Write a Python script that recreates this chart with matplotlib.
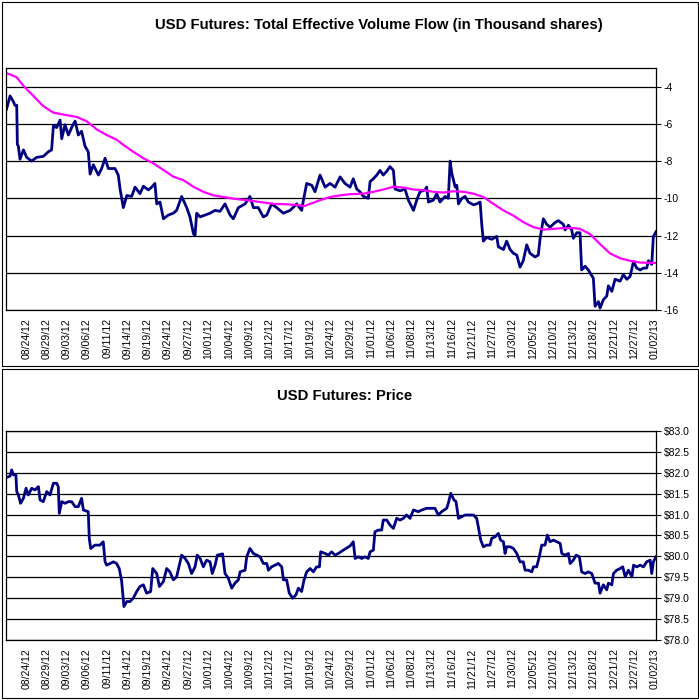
import matplotlib
matplotlib.use("Agg")
import matplotlib.pyplot as plt
from matplotlib.patches import Rectangle

plt.rcParams['font.family'] = ['Liberation Sans', 'DejaVu Sans']

# tick labels of the category axis (one label every few bars)
date_labels = ['08/24/12', '08/29/12', '09/03/12', '09/06/12', '09/11/12', '09/14/12',
               '09/19/12', '09/24/12', '09/27/12', '10/01/12', '10/04/12', '10/09/12',
               '10/12/12', '10/17/12', '10/19/12', '10/24/12', '10/29/12', '11/01/12',
               '11/06/12', '11/08/12', '11/13/12', '11/16/12', '11/21/12', '11/27/12',
               '11/30/12', '12/05/12', '12/10/12', '12/13/12', '12/18/12', '12/21/12',
               '12/27/12', '01/02/13']
label_pos = list(range(1, len(date_labels) + 1))

# effective volume flow (time in label intervals, value in thousand shares)
vol_t = [0.03, 0.20, 0.36, 0.44, 0.53, 0.56, 0.61, 0.69, 0.86, 1.02,
         1.27, 1.51, 1.84, 2.09, 2.25, 2.34, 2.50, 2.67, 2.75, 2.91,
         3.08, 3.24, 3.41, 3.57, 3.73, 3.90, 4.06, 4.15, 4.31, 4.56,
         4.72, 4.89, 5.05, 5.38, 5.54, 5.63, 5.79, 5.96, 6.20, 6.37,
         6.61, 6.78, 7.03, 7.19, 7.35, 7.44, 7.60, 7.77, 8.01, 8.26,
         8.42, 8.67, 8.92, 9.08, 9.25, 9.33, 9.41, 9.58, 9.82, 10.07,
         10.32, 10.56, 10.81, 11.06, 11.22, 11.47, 11.80, 12.04, 12.21, 12.45,
         12.70, 12.87, 13.11, 13.36, 13.69, 14.02, 14.35, 14.59, 14.68, 14.84,
         15.09, 15.25, 15.50, 15.75, 15.99, 16.24, 16.49, 16.73, 16.98,
         17.14, 17.31, 17.47, 17.64, 17.88, 17.97, 18.13, 18.30, 18.46, 18.62,
         18.79, 18.95, 19.12, 19.20, 19.45, 19.69, 19.86, 20.11, 20.27, 20.43,
         20.68, 20.76, 20.85, 21.09, 21.26, 21.42, 21.67, 21.83, 21.92, 22.00,
         22.17, 22.25, 22.33, 22.50, 22.66, 22.82, 23.07, 23.23, 23.40, 23.48,
         23.56, 23.72, 23.97, 24.22, 24.30, 24.55, 24.71, 24.88, 25.04, 25.21,
         25.37, 25.53, 25.70, 25.86, 26.11, 26.27, 26.36, 26.52, 26.69, 26.85,
         27.10, 27.26, 27.51, 27.59, 27.76, 27.92, 28.00, 28.17, 28.33, 28.41,
         28.58, 28.74, 28.99, 29.07, 29.24, 29.32, 29.48, 29.65, 29.73, 29.90,
         30.06, 30.31, 30.47, 30.64, 30.80, 30.97, 31.13, 31.30, 31.46, 31.62,
         31.71, 31.87, 31.95, 32.08]
vol_v = [-5.2, -4.5, -4.8, -5.0, -5.0, -7.1, -7.2, -7.9, -7.4, -7.8,
         -8.0, -7.8, -7.75, -7.5, -7.4, -6.1, -6.2, -5.8, -6.8, -6.05,
         -6.6, -6.2, -5.85, -6.6, -6.4, -7.2, -7.5, -8.7, -8.2, -8.75,
         -8.4, -7.85, -8.4, -8.4, -8.75, -9.5, -10.5, -9.85, -9.9, -9.4,
         -9.75, -9.35, -9.55, -9.4, -9.2, -10.3, -10.2, -11.1, -10.9, -10.8,
         -10.65, -9.9, -10.5, -11.0, -11.9, -12.0, -10.8, -11.0, -10.9, -10.8,
         -10.65, -10.7, -10.3, -10.9, -11.1, -10.5, -10.3, -9.9, -10.5, -10.5,
         -11.0, -10.9, -10.3, -10.5, -10.8, -10.65, -10.3, -10.65, -10.1, -9.2,
         -9.3, -9.65, -8.75, -9.4, -9.2, -9.4, -8.85, -9.2, -9.4,
         -8.95, -9.5, -9.65, -9.9, -10.0, -9.1, -8.95, -8.75, -8.5, -8.75,
         -8.55, -8.3, -8.5, -9.5, -9.6, -9.5, -10.1, -10.65, -10.1, -9.65,
         -9.55, -9.4, -10.2, -10.1, -9.75, -10.2, -9.9, -10.0, -8.0, -8.65,
         -9.4, -9.3, -10.3, -10.0, -9.9, -10.2, -10.35, -10.3, -10.2, -11.4,
         -12.3, -12.1, -12.2, -12.05, -12.6, -12.75, -12.3, -12.75, -12.95, -13.05,
         -13.7, -13.35, -12.5, -12.95, -13.15, -13.05, -12.15, -11.1, -11.4, -11.55,
         -11.3, -11.2, -11.4, -11.7, -11.45, -11.7, -12.15, -11.85, -11.85, -13.85,
         -13.65, -13.85, -14.3, -15.8, -15.55, -15.9, -15.45, -15.25, -14.7, -15.0,
         -14.35, -14.45, -14.1, -14.35, -14.2, -13.4, -13.75, -13.85, -13.75, -13.75,
         -13.35, -13.55, -12.05, -11.8]

# moving average of the volume flow
ma_t = [0.03, 0.36, 0.53, 0.86, 1.35, 1.84, 2.34, 2.83, 3.49, 3.98,
        4.48, 4.97, 5.46, 5.79, 6.28, 6.78, 7.27, 7.77, 8.26, 8.75,
        9.25, 9.74, 10.23, 10.73, 11.22, 11.88, 12.54, 13.20, 13.85, 14.51,
        14.68, 15.01, 15.50, 15.99, 16.49, 16.98,
        17.64, 18.13, 18.62, 19.12, 19.61, 20.11, 20.60, 21.09, 21.59, 22.08,
        22.58, 23.07, 23.56, 24.06, 24.55, 25.04, 25.53, 26.03, 26.52, 27.02,
        27.51, 28.00, 28.33, 28.82, 29.32, 29.81, 30.31, 30.80, 31.30, 31.79,
        32.08]
ma_v = [-3.28, -3.42, -3.5, -3.96, -4.5, -5.05, -5.4, -5.5, -5.63, -5.86,
        -6.3, -6.6, -6.85, -7.13, -7.5, -7.85, -8.12, -8.48, -8.84, -9.02,
        -9.38, -9.65, -9.84, -9.93, -10.02, -10.1, -10.2, -10.3, -10.32, -10.38,
        -10.43, -10.3, -10.1, -9.93, -9.84, -9.78,
        -9.75, -9.65, -9.53, -9.38, -9.42, -9.53, -9.56, -9.65, -9.69, -9.62,
        -9.65, -9.75, -9.93, -10.3, -10.65, -10.93, -11.28, -11.55, -11.68, -11.64,
        -11.6, -11.6, -11.64, -11.92, -12.46, -12.96, -13.22, -13.36, -13.45, -13.47,
        -13.47]

# futures price
px_t = [0.03, 0.20, 0.28, 0.36, 0.49, 0.53, 0.61, 0.72, 0.86, 0.99,
        1.10, 1.27, 1.43, 1.60, 1.68, 1.84, 2.01, 2.17, 2.34, 2.50,
        2.58, 2.63, 2.75, 2.91, 3.08, 3.24, 3.41, 3.57, 3.73, 3.82,
        4.06, 4.11, 4.18, 4.39, 4.64, 4.80, 4.89, 4.97, 5.30, 5.46,
        5.59, 5.71, 5.82, 5.96, 6.12, 6.28, 6.45, 6.61, 6.78, 6.94,
        7.14, 7.24, 7.44, 7.57, 7.77, 7.93, 8.09, 8.26, 8.42, 8.67,
        8.84, 9.00, 9.16, 9.33, 9.44, 9.58, 9.74, 9.90, 10.07, 10.18,
        10.32, 10.43, 10.69, 10.81, 10.97, 11.14, 11.30, 11.47, 11.55, 11.80,
        11.88, 12.04, 12.21, 12.37, 12.54, 12.70, 12.87, 12.95, 13.11, 13.28,
        13.44, 13.61, 13.69, 13.85, 13.98, 14.15, 14.31, 14.43, 14.59, 14.71,
        14.84, 15.01, 15.17, 15.33, 15.47, 15.53, 15.75, 15.91, 16.07, 16.24,
        16.40, 16.65, 16.98,
        17.14, 17.23, 17.39, 17.56, 17.72, 17.88, 17.97, 18.13, 18.21, 18.38,
        18.54, 18.62, 18.79, 18.95, 19.12, 19.28, 19.45, 19.61, 19.77, 19.94,
        20.11, 20.35, 20.52, 20.76, 20.93, 21.17, 21.34, 21.50, 21.75, 21.83,
        21.95, 22.11, 22.21, 22.33, 22.49, 22.66, 22.82, 23.07, 23.23, 23.31,
        23.43, 23.56, 23.72, 23.89, 23.97, 24.14, 24.30, 24.41, 24.55, 24.63,
        24.71, 24.88, 25.04, 25.21, 25.37, 25.53, 25.62, 25.78, 25.95, 26.03,
        26.19, 26.32, 26.44, 26.60, 26.72, 26.85, 27.02, 27.18, 27.35, 27.43,
        27.59, 27.76, 27.84, 28.00, 28.14, 28.30, 28.41, 28.58, 28.74, 28.91,
        29.07, 29.24, 29.32, 29.48, 29.65, 29.73, 29.90, 29.98, 30.14, 30.31,
        30.44, 30.56, 30.72, 30.89, 30.97, 31.13, 31.30, 31.46, 31.62, 31.79,
        31.87, 31.95, 32.08]
px_v = [81.89, 81.92, 82.07, 81.95, 81.95, 81.55, 81.47, 81.27, 81.39, 81.63,
        81.47, 81.63, 81.59, 81.67, 81.35, 81.31, 81.55, 81.47, 81.75, 81.75,
        81.67, 81.03, 81.31, 81.27, 81.31, 81.31, 81.19, 81.19, 81.39, 81.11,
        81.07, 80.43, 80.19, 80.27, 80.27, 80.35, 79.87, 79.79, 79.87, 79.83,
        79.71, 79.40, 78.80, 78.92, 78.92, 79.0, 79.16, 79.28, 79.32, 79.12,
        79.16, 79.71, 79.59, 79.28, 79.40, 79.71, 79.63, 79.44, 79.51, 80.03,
        79.95, 79.83, 79.59, 79.75, 80.03, 79.95, 79.75, 79.91, 79.87, 79.59,
        79.79, 80.03, 80.06, 79.59, 79.48, 79.24, 79.36, 79.44, 79.63, 79.67,
        79.99, 80.19, 80.07, 80.03, 79.99, 79.83, 79.83, 79.67, 79.75, 79.79,
        79.83, 79.75, 79.44, 79.44, 79.12, 79.0, 79.08, 79.24, 79.16, 79.44,
        79.63, 79.71, 79.63, 79.75, 79.75, 80.11, 80.07, 80.03, 80.11, 80.03,
        80.07, 80.15, 80.25,
        80.35, 79.95, 79.99, 79.95, 79.99, 79.95, 80.11, 80.15, 80.59, 80.63,
        80.63, 80.87, 80.87, 80.75, 80.67, 80.91, 80.87, 80.91, 80.99, 80.91,
        81.11, 81.07, 81.11, 81.15, 81.15, 81.15, 80.99, 81.07, 81.15, 81.27,
        81.51, 81.35, 81.31, 80.91, 80.95, 80.99, 80.99, 80.99, 80.91, 80.71,
        80.39, 80.23, 80.27, 80.27, 80.43, 80.47, 80.55, 80.39, 80.35, 80.07,
        80.23, 80.23, 80.19, 80.07, 79.87, 79.87, 79.67, 79.67, 79.63, 79.75,
        79.75, 79.99, 80.27, 80.27, 80.51, 80.35, 80.39, 80.35, 80.31, 80.07,
        80.03, 80.07, 79.83, 79.91, 80.03, 79.99, 79.63, 79.59, 79.63, 79.59,
        79.36, 79.36, 79.12, 79.32, 79.20, 79.36, 79.32, 79.59, 79.67, 79.71,
        79.75, 79.51, 79.67, 79.51, 79.79, 79.75, 79.79, 79.75, 79.87, 79.91,
        79.59, 79.87, 79.99]

vol_ticks = [-16, -14, -12, -10, -8, -6, -4]
px_ticks = [78.0, 78.5, 79.0, 79.5, 80.0, 80.5, 81.0, 81.5, 82.0, 82.5, 83.0]

W, H = 699, 700
fig = plt.figure(figsize=(W / 100, H / 100), dpi=100)

# chart area borders (two stacked Excel charts)
fig.add_artist(Rectangle((1.5 / W, 1 - 366 / H), 696 / W, 364.5 / H,
                         transform=fig.transFigure, fill=False, ec='black', lw=0.8))
fig.add_artist(Rectangle((1.5 / W, 1 - 698 / H), 696 / W, 329 / H,
                         transform=fig.transFigure, fill=False, ec='black', lw=0.8))


def style_axes(ax):
    ax.set_xlim(0, 32.08)
    ax.set_xticks(label_pos)
    ax.set_xticklabels(date_labels, rotation=90, fontsize=7.5, va='top')
    ax.tick_params(axis='x', length=0, pad=6)
    ax.yaxis.tick_right()
    ax.tick_params(axis='y', direction='out', length=3.5, width=0.8, pad=2, labelsize=7.5)
    ax.grid(axis='y', color='black', linewidth=0.9)
    ax.set_axisbelow(True)
    for s in ax.spines.values():
        s.set_linewidth(0.9)
        s.set_color('black')


ax1 = fig.add_axes([6 / W, 1 - 310 / H, 650 / W, 242 / H])
ax1.plot(vol_t, vol_v, color='#000080', linewidth=2.0)
ax1.plot(ma_t, ma_v, color='#FF00FF', linewidth=1.6)
ax1.set_ylim(-16, -3)
ax1.set_yticks(vol_ticks)
ax1.set_yticklabels([str(v) for v in vol_ticks])
style_axes(ax1)

ax2 = fig.add_axes([6 / W, 1 - 640 / H, 650 / W, 209 / H])
ax2.plot(px_t, px_v, color='#000080', linewidth=2.0)
ax2.set_ylim(78, 83)
ax2.set_yticks(px_ticks)
ax2.set_yticklabels(['$%.1f' % v for v in px_ticks])
style_axes(ax2)

fig.text(379 / W, 1 - 25 / H, 'USD Futures: Total Effective Volume Flow (in Thousand shares)',
         ha='center', va='center', fontsize=10.7, fontweight='bold')
fig.text(345 / W, 1 - 396 / H, 'USD Futures: Price',
         ha='center', va='center', fontsize=10.7, fontweight='bold')

fig.savefig('out.png', dpi=100, facecolor='white')
